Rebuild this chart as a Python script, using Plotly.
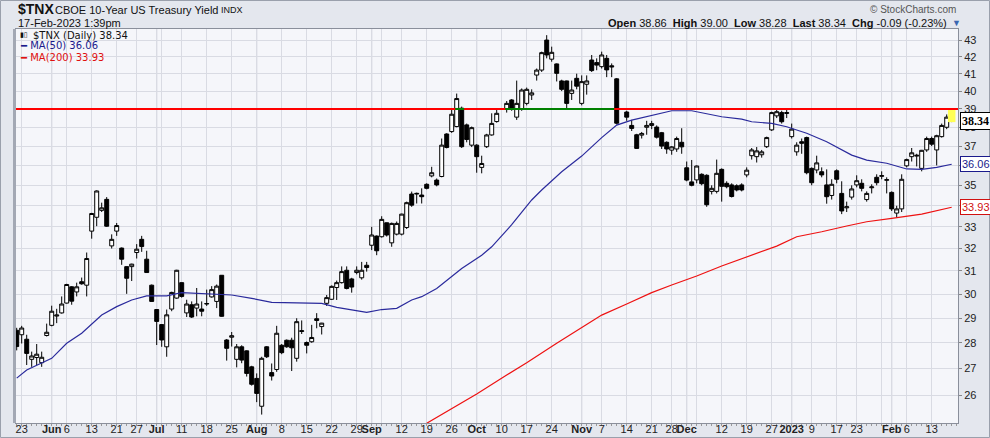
import math
import pandas as pd
import plotly.graph_objects as go

# ---------------- data ----------------
start_date = "2022-05-20"
end_date = "2023-02-17"
market_holidays = ["2022-05-30", "2022-06-20", "2022-07-04", "2022-09-05",
                   "2022-11-24", "2022-12-26", "2023-01-02", "2023-01-16"]

open_ = [28.50, 28.32, 28.14, 27.35, 27.42, 27.22, 28.29, 28.70, 29.08, 29.21,
         29.62, 30.31, 30.09, 30.53, 30.38, 32.80, 33.45, 33.78, 34.31, 32.12,
         32.80, 32.02, 31.19, 31.19, 31.82, 32.42, 31.52, 30.38, 29.35, 28.73,
         27.84, 29.37, 29.83, 30.49, 29.21, 29.55, 29.41, 29.37, 29.58, 29.88,
         29.69, 30.81, 28.11, 28.22, 27.35, 27.84, 27.68, 27.06, 26.62, 25.59,
         27.84, 26.84, 26.96, 27.90, 28.10, 28.10, 27.39, 28.45, 28.01, 28.04,
         28.97, 28.65, 29.61, 29.78, 30.28, 30.49, 31.03, 30.65, 30.93, 30.70,
         31.25, 32.15, 32.57, 32.54, 33.19, 32.26, 32.66, 32.66, 32.97, 34.57,
         34.57, 34.52, 35.05, 35.47, 35.26, 35.44, 37.64, 37.77, 38.04, 39.04,
         38.13, 37.05, 37.05, 35.90, 36.97, 37.59, 38.31, None, 38.98, 39.50,
         38.55, 38.98, 39.31, 39.78, 40.92, 41.21, 43.00, 41.85, 41.57, 40.58,
         40.58, 39.87, 40.73, 39.31, 40.39, 41.80, 41.65, 41.41, 41.90, 41.46,
         40.70, None, 38.83, 38.10, 37.60, 37.58, 38.00, 38.10, 38.01, 37.71,
         37.20, 36.79, 36.85, 37.20, 35.88, 35.17, 35.27, 35.55, 35.50, 34.70,
         34.70, 35.80, 35.10, 35.02, 34.98, 35.02, 35.52, 36.50, 36.45, 36.55,
         36.97, 37.86, 38.62, 38.80, 38.75, 37.50, 36.70, 37.23, 37.45, 35.85,
         35.77, 35.68, 35.02, 34.50, 35.73, 34.60, 33.90, 34.42, 35.02, 35.10,
         34.30, 34.88, 35.40, 35.45, 35.25, 34.65, 33.65, 33.85, 35.98, 36.45,
         36.48, 35.85, 36.80, 37.40, 36.80, 37.50, 38.00, 38.86]
high = [28.60, 28.68, 28.32, 27.65, 27.95, 27.65, 28.77, 29.51, 29.38, 29.90,
        30.44, 30.34, 30.49, 30.71, 31.82, 33.66, 34.75, 34.15, 34.42, 32.65,
        33.18, 32.05, 31.20, 31.32, 32.20, 32.58, 31.90, 30.41, 29.36, 28.75,
        29.35, 30.10, 31.05, 30.50, 29.76, 29.69, 30.26, 29.69, 30.19, 30.34,
        30.41, 30.82, 28.15, 28.43, 27.95, 27.90, 27.70, 27.10, 26.81, 27.45,
        27.87, 27.19, 28.68, 27.95, 28.13, 28.20, 28.99, 28.90, 28.05, 28.72,
        29.20, 28.80, 29.96, 30.37, 30.58, 31.20, 31.20, 30.70, 31.20, 31.40,
        31.40, 33.00, 32.60, 33.50, 33.20, 33.20, 33.25, 33.62, 34.20, 34.69,
        34.64, 34.85, 35.10, 35.93, 35.34, 37.40, 37.68, 39.04, 39.86, 39.13,
        38.20, 38.04, 37.10, 36.50, 37.65, 38.76, 38.95, None, 39.44, 39.55,
        40.60, 40.15, 40.20, 40.10, 41.30, 42.30, 43.30, 42.60, 41.60, 40.65,
        40.60, 40.60, 41.00, 40.90, 40.90, 42.10, 41.90, 42.30, 42.10, 41.60,
        40.75, None, 38.90, 38.40, 37.65, 37.75, 38.35, 38.35, 38.10, 37.75,
        37.25, 37.00, 37.50, 37.95, 36.20, 36.28, 36.00, 35.60, 35.55, 35.00,
        36.30, 35.85, 35.20, 35.10, 35.05, 35.10, 35.90, 36.90, 36.95, 36.80,
        37.50, 38.85, 39.00, 38.90, 39.00, 38.20, 37.20, 37.40, 37.50, 35.90,
        36.50, 35.90, 35.80, 35.30, 35.80, 35.20, 34.20, 35.00, 35.50, 35.30,
        34.70, 35.05, 35.55, 35.70, 35.40, 34.70, 34.00, 35.55, 36.35, 36.90,
        36.60, 36.80, 37.50, 37.50, 37.60, 38.20, 38.70, 39.00]
low = [27.70, 27.97, 27.13, 27.06, 27.13, 27.06, 28.25, 28.66, 28.79, 29.18,
       29.60, 29.55, 29.90, 30.40, 29.90, 32.45, 33.03, 33.70, 33.00, 32.00,
       32.58, 31.27, 30.01, 30.56, 31.55, 31.85, 30.93, 29.69, 27.91, 27.84,
       27.45, 29.28, 29.80, 29.85, 29.04, 29.00, 29.07, 29.07, 29.50, 29.85,
       29.41, 29.05, 27.30, 27.85, 27.04, 27.20, 26.69, 26.35, 25.74, 25.29,
       27.40, 26.54, 26.87, 27.55, 27.80, 26.90, 27.26, 28.35, 27.58, 28.00,
       28.58, 28.33, 29.50, 29.75, 29.75, 30.45, 30.20, 30.06, 30.85, 30.62,
       30.97, 31.93, 31.70, 32.50, 32.55, 32.08, 32.60, 32.60, 32.90, 33.95,
       34.11, 34.11, 34.80, 35.40, 34.95, 35.40, 36.88, 37.70, 38.00, 36.90,
       37.20, 36.95, 35.63, 35.60, 36.90, 37.55, 38.25, None, 38.80, 38.90,
       38.40, 38.90, 39.20, 39.50, 40.60, 41.10, 41.90, 41.70, 40.55, 40.00,
       39.00, 39.50, 40.10, 39.20, 39.80, 41.10, 41.20, 41.30, 40.80, 40.80,
       38.15, None, 38.35, 37.80, 36.85, 37.40, 37.60, 37.90, 37.40, 36.85,
       36.60, 36.55, 36.70, 36.60, 35.20, 34.95, 35.10, 35.00, 33.95, 34.55,
       34.60, 34.20, 34.85, 34.40, 34.70, 34.70, 35.40, 36.30, 36.15, 36.40,
       36.90, 37.80, 38.50, 38.20, 38.50, 37.40, 36.50, 36.60, 35.55, 35.00,
       35.60, 35.40, 34.10, 34.30, 35.10, 33.60, 33.70, 34.30, 34.90, 34.70,
       34.20, 34.60, 35.00, 35.30, 34.60, 33.75, 33.45, 33.70, 35.90, 36.20,
       35.95, 35.70, 36.70, 37.00, 36.00, 37.45, 37.90, 38.28]
close = [27.85, 28.59, 27.58, 27.48, 27.55, 27.43, 28.42, 29.28, 29.12, 29.58,
         30.41, 29.70, 30.31, 30.44, 31.55, 33.63, 34.72, 33.90, 33.03, 32.42,
         33.06, 31.52, 30.68, 31.30, 31.97, 32.09, 30.93, 29.69, 28.86, 28.11,
         29.13, 30.07, 31.03, 29.90, 29.58, 29.04, 29.58, 29.28, 29.60, 30.19,
         30.34, 29.07, 27.78, 28.28, 27.84, 27.32, 26.81, 26.40, 26.06, 27.39,
         27.45, 26.71, 28.38, 27.61, 27.84, 27.80, 28.85, 28.48, 27.90, 28.21,
         28.90, 28.79, 29.85, 30.33, 30.49, 30.97, 30.24, 30.30, 31.03, 31.03,
         31.15, 32.62, 31.90, 33.35, 32.62, 33.16, 33.16, 33.60, 34.15, 34.03,
         34.60, 34.44, 34.85, 35.63, 35.02, 37.05, 36.93, 38.71, 39.58, 36.97,
         37.35, 37.98, 36.45, 36.10, 37.59, 38.21, 38.76, None, 39.31, 38.98,
         39.31, 40.06, 40.10, 39.90, 41.21, 42.24, 42.10, 42.26, 41.02, 40.10,
         39.31, 40.06, 40.28, 40.54, 40.58, 41.18, 41.50, 42.10, 41.22, 41.40,
         38.22, None, 38.55, 37.94, 36.88, 37.67, 38.10, 38.20, 37.47, 37.00,
         36.85, 36.96, 37.40, 36.96, 35.26, 35.00, 35.97, 35.08, 34.05, 34.85,
         35.60, 34.95, 34.93, 34.45, 34.77, 34.77, 35.76, 36.80, 36.75, 36.70,
         37.45, 38.80, 38.85, 38.30, 38.80, 37.90, 37.05, 37.15, 35.63, 35.13,
         36.13, 35.52, 34.44, 35.05, 35.30, 33.75, 33.95, 34.82, 35.23, 34.85,
         34.60, 34.92, 35.13, 35.48, 35.28, 33.85, 33.85, 35.30, 36.30, 36.65,
         36.52, 36.78, 37.40, 37.10, 37.55, 38.10, 38.55, 38.34]

ma50_dates = ["2022-05-20", "2022-05-24", "2022-06-01", "2022-06-06", "2022-06-09",
              "2022-06-15", "2022-06-21", "2022-06-24", "2022-06-29", "2022-07-06",
              "2022-07-11", "2022-07-15", "2022-07-20", "2022-07-25", "2022-07-29",
              "2022-08-04", "2022-08-18", "2022-08-23", "2022-08-31", "2022-09-06",
              "2022-09-09", "2022-09-14", "2022-09-16", "2022-09-21", "2022-09-28",
              "2022-10-04", "2022-10-06", "2022-10-12", "2022-10-18", "2022-10-20",
              "2022-10-26", "2022-11-01", "2022-11-07", "2022-11-10", "2022-11-15",
              "2022-11-21", "2022-11-28", "2022-12-02", "2022-12-08", "2022-12-12",
              "2022-12-16", "2022-12-20", "2022-12-27", "2022-12-30", "2023-01-06",
              "2023-01-12", "2023-01-20", "2023-01-25", "2023-01-31", "2023-02-06",
              "2023-02-09", "2023-02-14", "2023-02-17"]
ma50_vals = [26.63, 26.94, 27.39, 27.98, 28.38, 29.12, 29.47, 29.75, 29.92, 29.92,
             30.06, 30.03, 30.00, 29.96, 29.82, 29.65, 29.61, 29.44, 29.23, 29.35,
             29.40, 29.75, 29.89, 30.24, 31.11, 31.70, 32.08, 33.10, 34.28, 34.77,
             35.68, 36.48, 37.45, 38.12, 38.39, 38.64, 38.90, 38.90, 38.70, 38.57,
             38.44, 38.30, 38.21, 38.03, 37.68, 37.23, 36.53, 36.27, 36.11, 35.82,
             35.80, 35.90, 36.06]

ma200_dates = ["2022-09-19", "2022-09-27", "2022-10-03", "2022-10-11", "2022-10-17",
               "2022-10-25", "2022-10-31", "2022-11-07", "2022-11-14", "2022-11-21",
               "2022-11-28", "2022-12-05", "2022-12-12", "2022-12-20", "2022-12-28",
               "2023-01-04", "2023-01-11", "2023-01-19", "2023-01-25", "2023-02-01",
               "2023-02-09", "2023-02-17"]
ma200_vals = [24.98, 25.60, 26.04, 26.75, 27.22, 27.98, 28.48, 29.12, 29.58, 30.06,
              30.39, 30.78, 31.22, 31.70, 32.11, 32.54, 32.77, 33.04, 33.24, 33.40,
              33.60, 33.93]

level = 39.0
green_spans = [("2022-09-27", "2022-09-28"), ("2022-10-11", "2022-11-09")]

xtick_dates = ["2022-05-23", "2022-06-01", "2022-06-06", "2022-06-13", "2022-06-21",
               "2022-06-27", "2022-07-01", "2022-07-05", "2022-07-11", "2022-07-18",
               "2022-07-25", "2022-08-01", "2022-08-08", "2022-08-15", "2022-08-22",
               "2022-08-29", "2022-09-01", "2022-09-06", "2022-09-12", "2022-09-19",
               "2022-09-26", "2022-10-03", "2022-10-10", "2022-10-17", "2022-10-24",
               "2022-11-01", "2022-11-07", "2022-11-14", "2022-11-21", "2022-11-28",
               "2022-12-01", "2022-12-05", "2022-12-12", "2022-12-19", "2022-12-27",
               "2023-01-03", "2023-01-09", "2023-01-17", "2023-01-23", "2023-01-30",
               "2023-02-01", "2023-02-06", "2023-02-13"]
xtick_text = ["23", "<b>Jun</b>", "6", "13", "21", "27", "<b>Jul</b>", "", "11", "18",
              "25", "<b>Aug</b>", "8", "15", "22", "29", "<b>Sep</b>", "", "12", "19",
              "26", "<b>Oct</b>", "10", "17", "24", "<b>Nov</b>", "7", "14", "21", "28",
              "<b>Dec</b>", "", "12", "19", "27", "<b>2023</b>", "9", "17", "23", "",
              "<b>Feb</b>", "6", "13"]
month_start_dates = ["2022-06-01", "2022-07-01", "2022-08-01", "2022-09-01", "2022-10-03",
                     "2022-11-01", "2022-12-01", "2023-01-03", "2023-02-01"]
ytick_vals = list(range(26, 44))
ytick_hidden = [34, 36]  # covered by the MA value tags in the reference

last_open, last_high, last_low, last_close = 38.86, 39.00, 38.28, 38.34
last_chg, last_pct = -0.09, -0.23
ma50_last, ma200_last = 36.06, 33.93

# ---------------- build ----------------
dates = [d.strftime("%Y-%m-%d") for d in pd.bdate_range(start_date, end_date)
         if d.strftime("%Y-%m-%d") not in market_holidays]
pos = {d: i for i, d in enumerate(dates)}
n = min(len(dates), len(open_), len(high), len(low), len(close))
xs = list(range(n))

W, H = 990, 438
ML, MR, MT, MB = 16, 32, 29, 15
PW, PH = W - ML - MR, H - MT - MB


def fx(px):
    return (px - ML) / PW


def fy(py):
    return (H - MB - py) / PH


fig = go.Figure()

# last-bar highlight
li = n - 1
fig.add_trace(go.Scatter(x=[li - 0.75, li + 0.75, li + 0.75, li - 0.75, li - 0.75],
                         y=[last_low, last_low, last_high, last_high, last_low],
                         fill="toself", fillcolor="#ffff55", mode="lines",
                         line=dict(width=0, color="#ffff55"), hoverinfo="skip"))

fig.add_trace(go.Scatter(x=[pos[d] for d in ma200_dates], y=ma200_vals, mode="lines",
                         line=dict(color="#ee1111", width=1.2), hoverinfo="skip"))
fig.add_trace(go.Scatter(x=[pos[d] for d in ma50_dates], y=ma50_vals, mode="lines",
                         line=dict(color="#2a2a9c", width=1.2), hoverinfo="skip"))

fig.add_trace(go.Candlestick(
    x=xs, open=open_[:n], high=high[:n], low=low[:n], close=close[:n],
    increasing=dict(line=dict(color="black", width=1), fillcolor="white"),
    decreasing=dict(line=dict(color="black", width=1), fillcolor="black"),
    whiskerwidth=0, hoverinfo="skip"))

# horizontal level line + green segments
fig.add_trace(go.Scatter(x=[-5, n + 5], y=[level, level], mode="lines",
                         line=dict(color="#ff0000", width=2), hoverinfo="skip"))
for a, b in green_spans:
    fig.add_trace(go.Scatter(x=[pos[a] - 0.3, pos[b] + 0.5], y=[level, level], mode="lines",
                             line=dict(color="#008000", width=2), hoverinfo="skip"))

shapes = []
for d in month_start_dates:
    shapes.append(dict(type="line", xref="x", yref="paper", x0=pos[d], x1=pos[d], y0=0, y1=1,
                       line=dict(color="#b9bdc8", width=1), layer="below"))
# left frame bar
shapes.append(dict(type="rect", xref="paper", yref="paper", x0=fx(13), x1=fx(16), y0=0, y1=1,
                   fillcolor="#a3a8b4", line=dict(width=0)))
# outer border
shapes.append(dict(type="rect", xref="paper", yref="paper", x0=fx(0.5), x1=fx(989.5),
                   y0=fy(437.5), y1=fy(0.5), line=dict(color="#9aa0ac", width=1)))

HF = "Liberation Sans, Arial, sans-serif"
LF = "DejaVu Sans, Verdana, sans-serif"
ann = []
ann.append(dict(text="<b>$TNX</b>", x=fx(16), y=fy(9), xanchor="left", yanchor="middle",
                font=dict(family=HF, size=14, color="#111")))
ann.append(dict(text="CBOE 10-Year US Treasury Yield", x=fx(53), y=fy(9.5), xanchor="left",
                yanchor="middle", font=dict(family=HF, size=11, color="#111")))
ann.append(dict(text="INDX", x=fx(219), y=fy(9.5), xanchor="left", yanchor="middle",
                font=dict(family=HF, size=9, color="#111")))
ann.append(dict(text="17-Feb-2023 1:39pm", x=fx(16), y=fy(23), xanchor="left", yanchor="middle",
                font=dict(family=HF, size=11, color="#111")))
ann.append(dict(text="\u00a9 StockCharts.com", x=fx(958), y=fy(9), xanchor="right",
                yanchor="middle", font=dict(family=HF, size=10, color="#555")))
hdr = ("<b>Open</b> %.2f  <b>High</b> %.2f  <b>Low</b> %.2f  <b>Last</b> %.2f  "
       "<b>Chg</b> %.2f (%.2f%%)" % (last_open, last_high, last_low, last_close, last_chg, last_pct))
ann.append(dict(text=hdr, x=fx(949), y=fy(23), xanchor="right", yanchor="middle",
                font=dict(family=HF, size=11, color="#111")))
ann.append(dict(text="\u25bc", x=fx(950), y=fy(23), xanchor="left", yanchor="middle",
                font=dict(family=HF, size=9, color="#3a66b0")))
# legend
ann.append(dict(text="\u25ae\u25af", x=fx(18), y=fy(35), xanchor="left", yanchor="middle",
                font=dict(family=LF, size=7, color="#111")))
ann.append(dict(text="$TNX (Daily) %.2f" % last_close, x=fx(31), y=fy(35), xanchor="left",
                yanchor="middle", font=dict(family=LF, size=10, color="#111")))
ann.append(dict(text="\u2501 MA(50) %.2f" % ma50_last, x=fx(18), y=fy(46), xanchor="left",
                yanchor="middle", font=dict(family=LF, size=10, color="#1a1a8c")))
ann.append(dict(text="\u2501 MA(200) %.2f" % ma200_last, x=fx(18), y=fy(57), xanchor="left",
                yanchor="middle", font=dict(family=LF, size=10, color="#e01010")))
# right value tags
for val, col, fam, bold in [(last_close, "#000", "Liberation Serif, serif", True),
                            (ma50_last, "#1a1a8c", HF, False),
                            (ma200_last, "#d01010", HF, False)]:
    t = "%.2f" % val
    ann.append(dict(text=("<b>%s</b>" % t) if bold else t, xref="paper", yref="y",
                    x=fx(960), y=math.log10(val), xanchor="left", yanchor="middle",
                    font=dict(family=fam, size=12 if bold else 11, color=col),
                    bgcolor="white", bordercolor=col, borderwidth=1, borderpad=1))
for a in ann:
    a.setdefault("xref", "paper")
    a.setdefault("yref", "paper")
    a["showarrow"] = False

fig.update_layout(
    width=W, height=H, margin=dict(l=ML, r=MR, t=MT, b=MB, autoexpand=False),
    paper_bgcolor="#e4e7ee", plot_bgcolor="#f5f6fa",
    showlegend=False, hovermode=False,
    shapes=shapes, annotations=ann,
    boxgap=0.12, boxgroupgap=0.1,
    xaxis=dict(range=[-0.14, 188.26], tickmode="array",
               tickvals=[pos[d] for d in xtick_dates], ticktext=xtick_text, tickangle=0,
               showgrid=True, gridcolor="#d9dbe3", gridwidth=1, zeroline=False,
               ticks="", ticklabelstandoff=-4, automargin=False,
               minor=dict(ticks="outside", ticklen=2, tickcolor="#999", dtick=1, tick0=0,
                          showgrid=False),
               tickfont=dict(family=HF, size=11, color="#222"),
               showline=True, linecolor="#8a8f9b", mirror=True,
               rangeslider=dict(visible=False), fixedrange=True),
    yaxis=dict(type="log", side="right", automargin=False,
               range=[math.log10(24.99), math.log10(43.68)],
               tickmode="array", tickvals=ytick_vals,
               ticktext=["" if v in ytick_hidden else str(v) for v in ytick_vals],
               showgrid=True, gridcolor="#d9dbe3", gridwidth=1, zeroline=False,
               ticks="outside", ticklen=3, tickcolor="#888",
               tickfont=dict(family=HF, size=11, color="#222"),
               showline=True, linecolor="#8a8f9b", mirror=True, fixedrange=True),
)

fig.write_html("out.html")
